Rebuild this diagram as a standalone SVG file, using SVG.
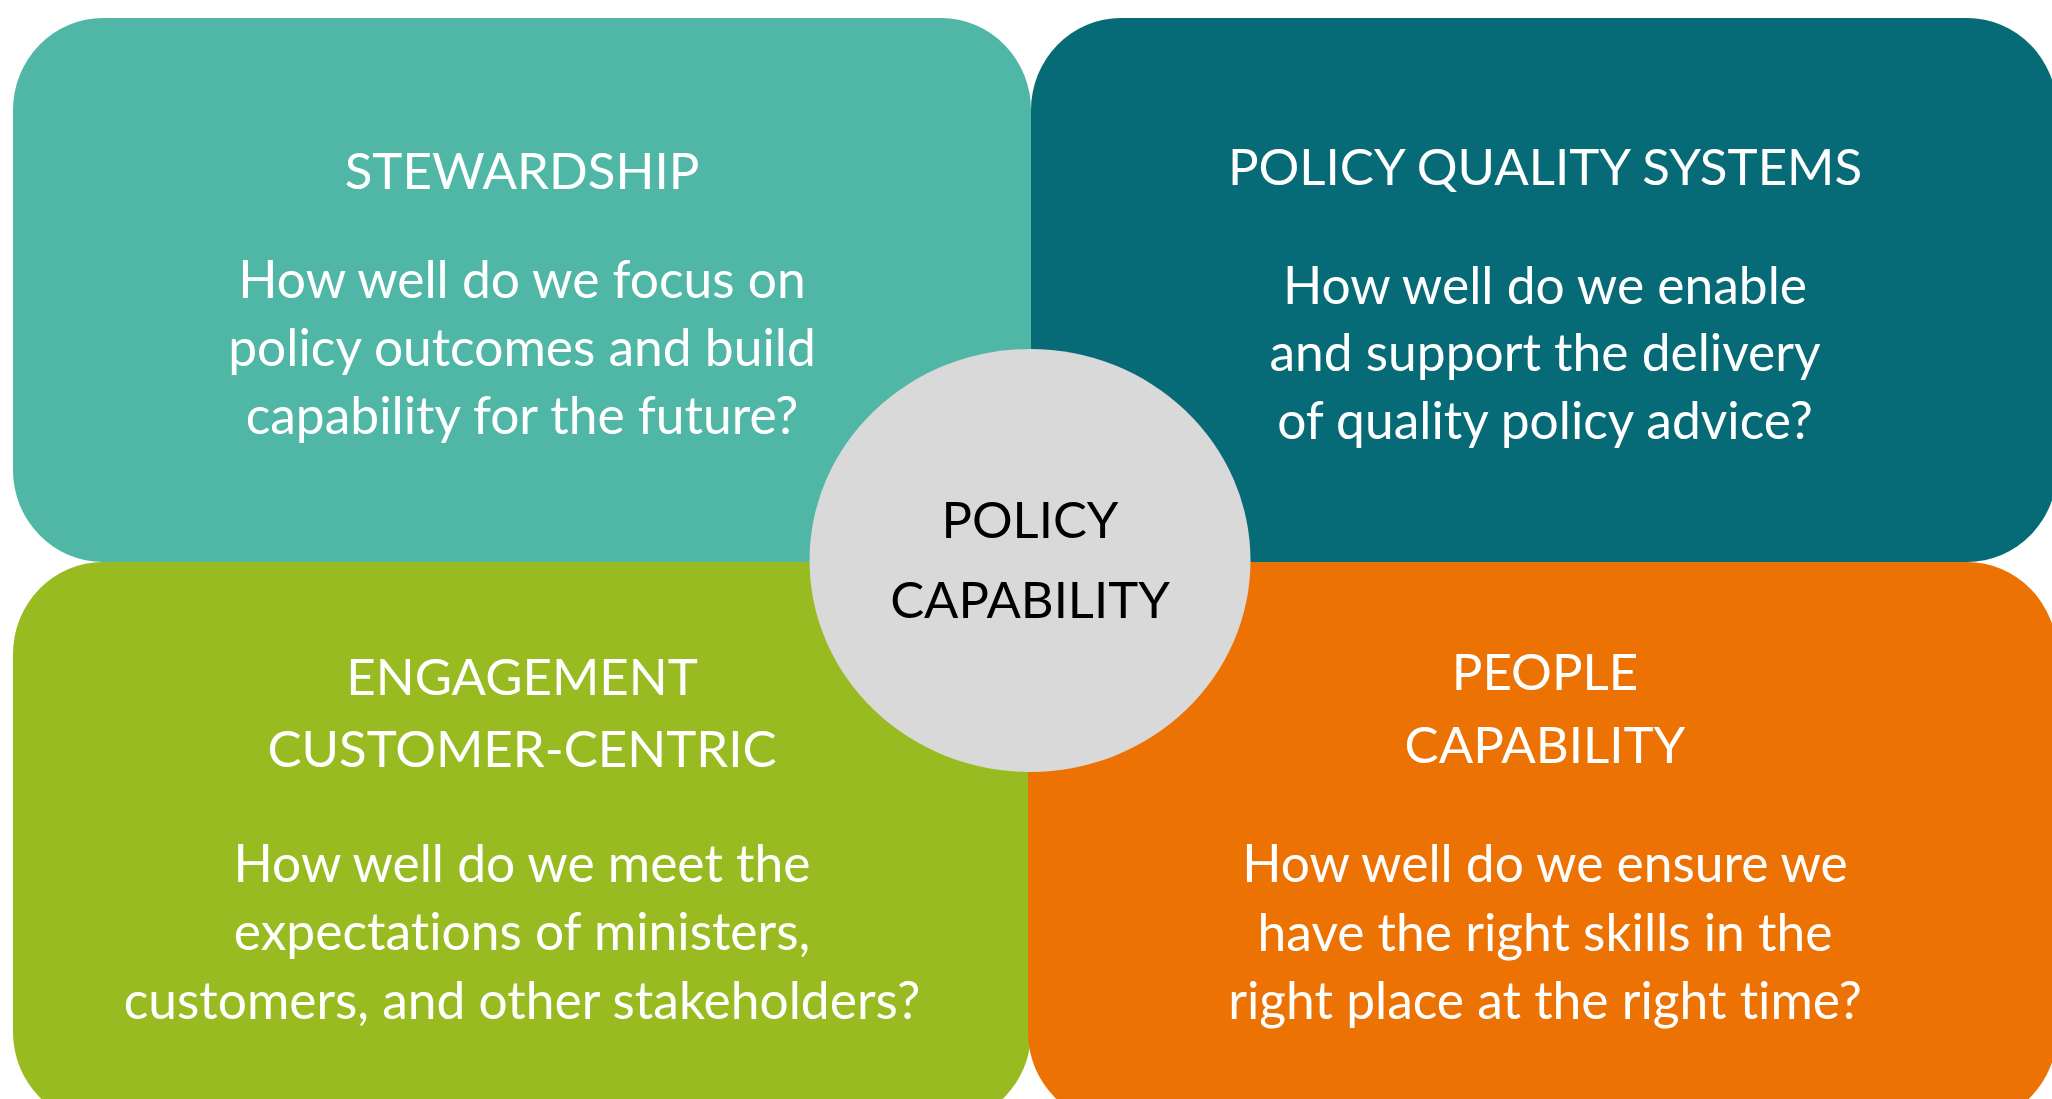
<svg xmlns="http://www.w3.org/2000/svg" width="2052" height="1099" viewBox="0 0 2052 1099">
<style>
.t{font-family:Lato,"Liberation Sans",sans-serif;fill:#ffffff;text-anchor:middle;font-variant-ligatures:none}
.h{font-size:51px}
.b{font-size:51.5px}
.c{font-family:Lato,"Liberation Sans",sans-serif;fill:#000000;text-anchor:middle;font-size:50.8px}
</style>
<rect width="2052" height="1099" fill="#ffffff"/>
<g id="stewardship">
<rect x="13" y="18" width="1018" height="544" rx="90" ry="92" fill="#50B7A7"/>
<text class="t h" x="522" y="189">STEWARDSHIP</text>
<text class="t b" x="522" y="298">How well do we focus on</text>
<text class="t b" x="522" y="366">policy outcomes and build</text>
<text class="t b" x="522" y="434">capability for the future?</text>
</g>
<g id="policy-quality-systems">
<rect x="1031" y="18" width="1026" height="544" rx="90" ry="92" fill="#066A77"/>
<text class="t h" x="1545" y="185">POLICY QUALITY SYSTEMS</text>
<text class="t b" x="1545" y="304">How well do we enable</text>
<text class="t b" x="1545" y="371">and support the delivery</text>
<text class="t b" x="1545" y="439">of quality policy advice?</text>
</g>
<g id="engagement">
<rect x="13" y="562" width="1018" height="562" rx="90" ry="92" fill="#98BB21"/>
<text class="t h" x="522" y="695">ENGAGEMENT</text>
<text class="t h" x="522" y="767">CUSTOMER-CENTRIC</text>
<text class="t b" x="522" y="882">How well do we meet the</text>
<text class="t b" x="522" y="950">expectations of ministers,</text>
<text class="t b" x="522" y="1019">customers, and other stakeholders?</text>
</g>
<g id="people-capability">
<rect x="1028" y="562" width="1029" height="562" rx="90" ry="92" fill="#ED7204"/>
<text class="t h" x="1545" y="690">PEOPLE</text>
<text class="t h" x="1545" y="763">CAPABILITY</text>
<text class="t b" x="1545" y="882">How well do we ensure we</text>
<text class="t b" x="1545" y="951">have the right skills in the</text>
<text class="t b" x="1545" y="1019">right place at the right time?</text>
</g>
<g id="policy-capability">
<ellipse cx="1030" cy="560.5" rx="220.5" ry="211.5" fill="#D9D9D9"/>
<text class="c" x="1030" y="538">POLICY</text>
<text class="c" x="1030" y="618">CAPABILITY</text>
</g>
<g id="connectors"/>
</svg>
